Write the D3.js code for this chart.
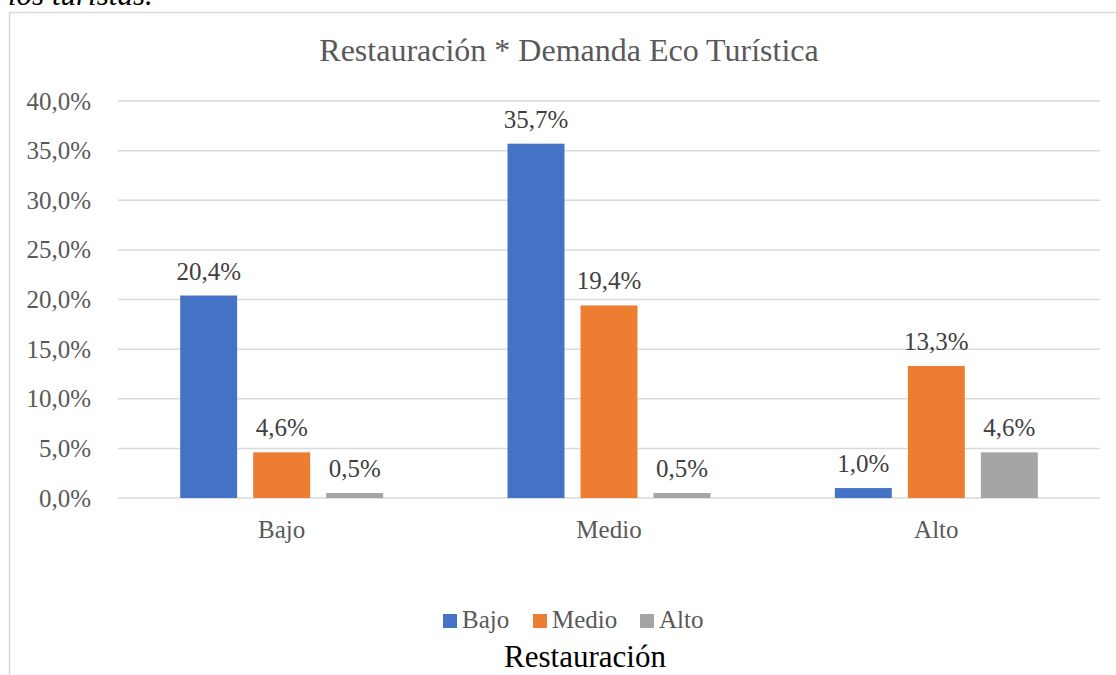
<!DOCTYPE html>
<html>
<head>
<meta charset="utf-8">
<script src="https://cdn.jsdelivr.net/npm/d3@7"></script>
<style>
  body { margin: 0; background: #fff; }
  text { font-family: "Liberation Serif", "Times New Roman", serif; }
</style>
</head>
<body>
<div id="viz"></div>
<script>
// chart data
const categories = ["Bajo", "Medio", "Alto"];
const seriesNames = ["Bajo", "Medio", "Alto"];
const bajoValues = [20.4, 35.7, 1.0];
const medioValues = [4.6, 19.4, 13.3];
const altoValues = [0.5, 0.5, 4.6];
const yTicks = [0, 5, 10, 15, 20, 25, 30, 35, 40];
const colors = ["#4472C4", "#ED7D31", "#A5A5A5"];

const seriesValues = [bajoValues, medioValues, altoValues];
const fmt = v => v.toFixed(1).replace(".", ",") + "%";

const W = 1116, H = 675;
const margin = {top: 101, right: 16, bottom: 177, left: 118};
const width = W - margin.left - margin.right,
      height = H - margin.top - margin.bottom;

const svg = d3.select("#viz").append("svg")
  .attr("width", W).attr("height", H);

// caption fragment cut off at the top
svg.append("text")
  .attr("x", 8).attr("y", 5)
  .attr("font-size", 31).attr("font-style", "italic")
  .attr("fill", "#000")
  .text("los turistas.");

// chart frame
svg.append("path")
  .attr("d", "M9.5," + H + "V12.5H" + W)
  .attr("fill", "none").attr("stroke", "#d9d9d9").attr("stroke-width", 1.5);

// title
svg.append("text")
  .attr("x", 569).attr("y", 61)
  .attr("text-anchor", "middle")
  .attr("font-size", 32).attr("fill", "#595959")
  .text("Restauración * Demanda Eco Turística");

const g = svg.append("g")
  .attr("transform", "translate(" + margin.left + "," + margin.top + ")");

const y = d3.scaleLinear().domain([0, 40]).range([height, 0]);
const x0 = d3.scaleBand().domain(categories).range([0, width])
  .paddingInner(0.38).paddingOuter(0.19);
const x1 = d3.scaleBand().domain(seriesNames).range([0, x0.bandwidth()])
  .paddingInner(0.22).paddingOuter(0);

// gridlines
g.append("g")
  .selectAll("line").data(yTicks).join("line")
    .attr("x1", 0).attr("x2", width)
    .attr("y1", d => y(d)).attr("y2", d => y(d))
    .attr("stroke", "#d9d9d9").attr("stroke-width", 1.5);

// y axis labels
const yAxis = g.append("g")
  .call(d3.axisLeft(y).tickValues(yTicks).tickSize(0).tickPadding(27)
    .tickFormat(fmt));
yAxis.select(".domain").remove();
yAxis.selectAll("text")
  .attr("font-family", "Liberation Serif, Times New Roman, serif")
  .attr("font-size", 25).attr("fill", "#595959");

// x axis labels
const xAxis = g.append("g")
  .attr("transform", "translate(0," + height + ")")
  .call(d3.axisBottom(x0).tickSize(0).tickPadding(22));
xAxis.select(".domain").remove();
xAxis.selectAll("text")
  .attr("font-family", "Liberation Serif, Times New Roman, serif")
  .attr("font-size", 25).attr("fill", "#595959");

// bars
const rows = [];
categories.forEach((c, i) => {
  seriesNames.forEach((s, j) => {
    rows.push({cat: c, ser: s, idx: j, value: seriesValues[j][i]});
  });
});

g.append("g").selectAll("rect").data(rows).join("rect")
  .attr("x", d => x0(d.cat) + x1(d.ser))
  .attr("y", d => y(d.value))
  .attr("width", x1.bandwidth())
  .attr("height", d => height - y(d.value))
  .attr("fill", d => colors[d.idx]);

// data labels
g.append("g").selectAll("text").data(rows).join("text")
  .attr("x", d => x0(d.cat) + x1(d.ser) + x1.bandwidth() / 2)
  .attr("y", d => y(d.value) - 16)
  .attr("text-anchor", "middle")
  .attr("font-size", 25).attr("fill", "#404040")
  .text(d => fmt(d.value));

// legend
const legendX = [443, 533, 640];
const legend = svg.append("g").selectAll("g").data(seriesNames).join("g")
  .attr("transform", (d, i) => "translate(" + legendX[i] + ",614)");
legend.append("rect")
  .attr("width", 14).attr("height", 14)
  .attr("fill", (d, i) => colors[i]);
legend.append("text")
  .attr("x", 19).attr("y", 14)
  .attr("font-size", 25).attr("fill", "#595959")
  .text(d => d);

// axis title
svg.append("text")
  .attr("x", 585).attr("y", 667)
  .attr("text-anchor", "middle")
  .attr("font-size", 31).attr("fill", "#000")
  .text("Restauración");
</script>
</body>
</html>
